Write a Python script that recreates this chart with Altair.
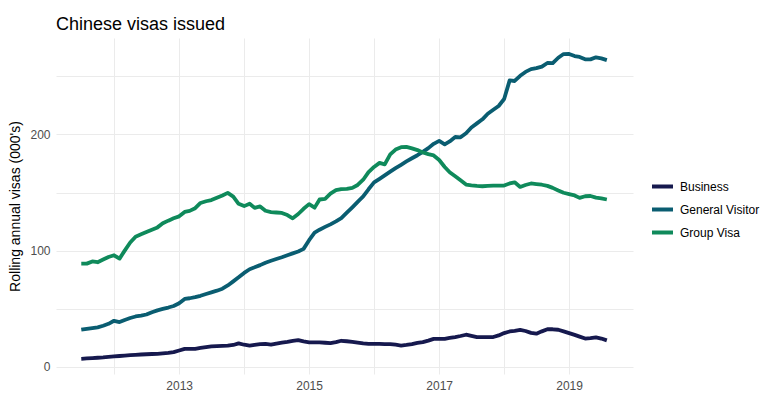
import altair as alt
import pandas as pd

# Monthly rolling annual visas (000's), Jul 2011 - Aug 2019
start_month = "2011-07-01"
series_names = ["Business", "General Visitor", "Group Visa"]
series_colors = ["#16194e", "#0a5d71", "#0f8a5b"]

business = [
    6.9, 7.2, 7.5, 7.8, 8.1, 8.5, 8.9, 9.3, 9.6, 10.0, 10.3, 10.6,
    10.8, 11.0, 11.2, 11.6, 12.0, 12.6, 14.0, 15.4, 15.5, 15.5, 16.2, 16.9,
    17.5, 17.8, 18.0, 18.2, 18.8, 20.2, 19.0, 18.2, 18.8, 19.5, 19.7, 19.1,
    20.0, 20.8, 21.5, 22.3, 22.9, 21.8, 21.0, 21.0, 21.0, 20.7, 20.3, 21.2,
    22.4, 22.0, 21.5, 20.9, 20.2, 19.8, 19.7, 19.7, 19.6, 19.6, 19.0, 18.3,
    18.8, 19.5, 20.5, 21.2, 22.5, 24.0, 24.1, 24.1, 24.8, 25.6, 26.5, 27.6,
    26.6, 25.6, 25.6, 25.6, 25.6, 27.0, 29.0, 30.4, 31.0, 31.8, 30.8, 29.2,
    28.5, 30.5, 32.3, 32.3, 31.9, 30.5, 29.0, 27.5, 26.0, 24.3, 24.6, 25.3,
    24.3, 22.7,
]

general_visitor = [
    31.9, 32.6, 33.3, 34.0, 35.3, 37.0, 39.6, 38.5, 40.3, 42.0, 43.3, 44.0,
    45.0, 47.0, 48.6, 49.8, 51.0, 52.3, 54.7, 58.4, 59.0, 59.9, 61.1, 62.7,
    64.1, 65.5, 67.2, 70.0, 73.5, 77.0, 80.8, 84.0, 85.6, 87.5, 89.6, 91.3,
    92.8, 94.3, 96.0, 97.6, 99.2, 101.5, 109.0, 115.5, 118.0, 120.4, 122.6, 125.2,
    128.0, 132.6, 137.3, 142.0, 146.6, 152.8, 158.7, 161.8, 164.8, 168.0, 171.0, 173.9,
    176.8, 179.5, 182.1, 185.0, 188.2, 191.9, 194.5, 191.5, 194.0, 197.8, 197.5, 201.0,
    206.0, 209.5, 213.0, 217.8, 221.2, 224.5, 230.5, 246.5, 246.0, 250.5, 253.8, 256.2,
    257.0, 258.3, 261.5, 261.3, 266.0, 269.2, 269.3, 267.5, 266.7, 264.7, 264.6, 266.4,
    265.5, 264.0,
]

group_visa = [
    88.8, 88.8, 90.7, 90.0, 92.3, 94.5, 96.0, 93.1, 100.0, 107.0, 112.0, 114.0,
    116.0, 118.0, 120.0, 123.5, 125.8, 127.8, 129.5, 133.3, 134.2, 136.5, 141.0, 142.5,
    143.5, 145.5, 147.5, 149.7, 146.5, 140.3, 138.3, 140.4, 136.8, 138.0, 134.3, 133.2,
    132.8, 132.4, 130.6, 127.8, 131.5, 136.0, 140.0, 137.0, 144.0, 144.6, 149.0, 152.0,
    153.0, 153.1, 154.0, 156.5, 161.0, 167.5, 172.0, 175.5, 174.2, 182.8, 187.0, 189.0,
    189.3, 188.0, 186.5, 184.5, 183.0, 181.9, 178.0, 172.0, 167.5, 164.0, 160.5, 156.8,
    156.2, 155.7, 155.4, 155.7, 156.0, 156.0, 156.0, 157.8, 158.8, 154.8, 156.5, 157.8,
    157.3, 156.7, 155.7, 154.0, 151.8, 149.8, 148.7, 147.5, 145.4, 146.8, 147.0, 145.6,
    145.0, 144.0,
]

dates = pd.date_range(start_month, periods=len(business), freq="MS").strftime("%Y-%m-%d")
frames = []
for name, vals in zip(series_names, [business, general_visitor, group_visa]):
    frames.append(pd.DataFrame({"date": dates, "value": vals, "series": name}))
df = pd.concat(frames, ignore_index=True)

FONT = "Liberation Sans"

chart = alt.Chart(df).mark_line(strokeWidth=3.8, strokeJoin="round").encode(
    x=alt.X(
        "date:T",
        scale=alt.Scale(domain=[alt.DateTime(year=2011, month=2, date=9),
                                alt.DateTime(year=2019, month=12, date=26)]),
        axis=alt.Axis(
            title=None,
            values=[alt.DateTime(year=y, month=1, date=1) for y in range(2012, 2020)],
            labelExpr="year(datum.value) % 2 == 1 ? timeFormat(datum.value, '%Y') : ''",
            domain=False, ticks=False, labelPadding=6,
            labelFont=FONT, labelFontSize=12, labelColor="#4d4d4d",
            gridColor="#ebebeb", gridWidth=1,
        ),
    ),
    y=alt.Y(
        "value:Q",
        scale=alt.Scale(domain=[-6.2, 283], nice=False, zero=False),
        axis=alt.Axis(
            title="Rolling annual visas (000's)",
            values=[0, 50, 100, 150, 200, 250],
            labelExpr="datum.value % 100 == 0 ? datum.label : ''",
            domain=False, ticks=False, labelPadding=6,
            labelFont=FONT, labelFontSize=12, labelColor="#4d4d4d",
            titleFont=FONT, titleFontSize=14, titleFontWeight="normal", titleColor="black",
            titlePadding=7,
            gridColor="#ebebeb", gridWidth=1,
        ),
    ),
    color=alt.Color(
        "series:N",
        scale=alt.Scale(domain=series_names, range=series_colors),
        legend=alt.Legend(
            title=None, orient="none", legendX=594, legendY=136,
            symbolType="stroke", symbolStrokeWidth=4, symbolSize=440,
            labelFont=FONT, labelFontSize=12, labelColor="black",
            rowPadding=2, labelOffset=5,
        ),
    ),
).properties(
    width=577,
    height=336,
    title=alt.TitleParams(
        "Chinese visas issued", anchor="start", frame="group", font=FONT, fontSize=18,
        fontWeight="normal", color="black", baseline="bottom", offset=6, dy=20,
    ),
    autosize=alt.AutoSizeParams(type="none"),
    padding={"left": 48, "top": 30, "right": 129, "bottom": 26},
).configure(background="white").configure_view(stroke=None)

chart.save("out.html", embed_options={"renderer": "svg", "actions": False})
